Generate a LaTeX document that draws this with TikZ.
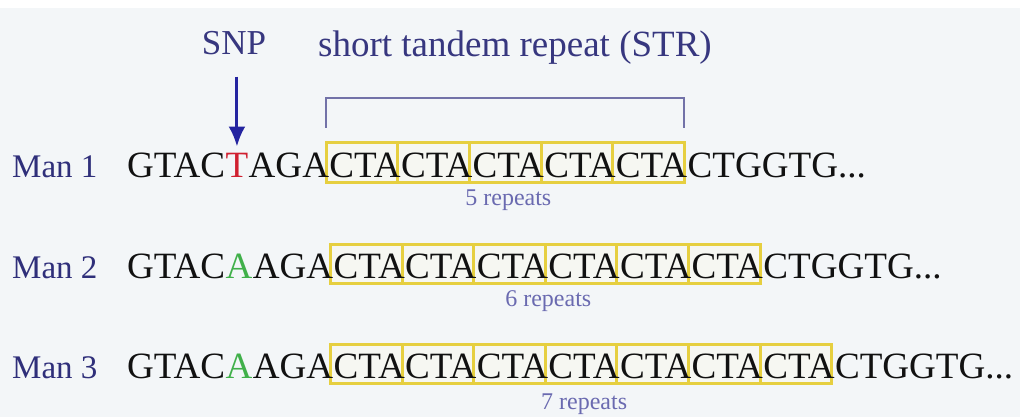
\documentclass[tikz,border=0pt]{standalone}
\usepackage{fontspec}
\setmainfont{Liberation Serif}
\usetikzlibrary{arrows.meta}
\usetikzlibrary{calc}

\definecolor{bgcol}{HTML}{F3F6F8}
\definecolor{seqblack}{HTML}{111111}
\definecolor{manblue}{HTML}{2F2F7A}
\definecolor{topblue}{HTML}{37377F}
\definecolor{arrowblue}{HTML}{2424A0}
\definecolor{bracketblue}{HTML}{7272A8}
\definecolor{stryellow}{HTML}{E6CF40}
\definecolor{boxfill}{HTML}{F6F7F2}
\definecolor{snpred}{HTML}{D02030}
\definecolor{snpgreen}{HTML}{40B04A}
\definecolor{repblue}{HTML}{6A6AB0}

\pgfdeclarelayer{back}
\pgfsetlayers{back,main}

\begin{document}
\begin{tikzpicture}[x=1pt,y=-1pt,
  seq/.style={anchor=base west,inner sep=0pt,text=seqblack,font=\fontsize{37.1}{40}\selectfont},
  manlabel/.style={anchor=base west,inner sep=0pt,text=manblue,font=\fontsize{33}{36}\selectfont},
  toplabel/.style={anchor=base west,inner sep=0pt,text=topblue,font=\fontsize{37}{40}\selectfont},
  replabel/.style={anchor=base,inner sep=0pt,text=repblue,font=\fontsize{24}{28}\selectfont},
  strbox/.style={draw=stryellow,line width=3pt,fill=boxfill},
  bracket/.style={draw=bracketblue,line width=2pt},
  snparrow/.style={draw=arrowblue,line width=3pt,-{Latex[length=20pt,width=17pt]}}]
 \useasboundingbox (0,0) rectangle (1020,417);
 \begin{pgfonlayer}{back}
  \fill[bgcol] (0,0) rectangle (1020,417);
  \fill[white] (0,0) rectangle (1020,8);
 \end{pgfonlayer}

 % headings
 \node[toplabel,anchor=base,font=\fontsize{35}{40}\selectfont] (snplab) at (234,55) {SNP};
 \node[toplabel] (strlab) at (318,57) {short tandem repeat (STR)};

 % one row per man
 \foreach \row/\ypos/\snpbase/\snpcol/\nrep/\cdrop in {1/177/T/snpred/5/28, 2/278/A/snpgreen/6/28, 3/378/A/snpgreen/7/31}{
  \node[manlabel] (man\row) at (12,\ypos) {Man \row};
  \node[seq] (pre\row) at (127,\ypos) {GTAC};
  \node[seq,text=\snpcol] (snp\row) at (pre\row.base east) {\snpbase};
  \node[seq,alias=rep\row-0] (mid\row) at (snp\row.base east) {AGA};
  \foreach \i [evaluate=\i as \j using int(\i-1)] in {1,...,\nrep}
   \node[seq] (rep\row-\i) at (rep\row-\j.base east) {CTA};
  \node[seq] (tail\row) at (rep\row-\nrep.base east) {CTGGTG...};
  \begin{pgfonlayer}{back}
   \foreach \i in {1,...,\nrep}
    \draw[strbox] ([xshift=-3pt,yshift=34pt]rep\row-\i.base west) rectangle ([xshift=-3pt,yshift=-5pt]rep\row-\i.base east);
  \end{pgfonlayer}
  \node[replabel] (count\row) at ([yshift=-\cdrop pt]$(rep\row-1.base west)!.5!(rep\row-\nrep.base east)$) {\nrep\ repeats};
 }

 % SNP arrow and STR bracket
 \draw[snparrow,shorten <=21pt,shorten >=6pt] (snplab.south -| snp1.north) -- (snp1.north);
 \draw[bracket] ([xshift=-3pt,yshift=49pt]rep1-1.base west) -- ++(0,-30) -| ([xshift=-3pt,yshift=49pt]rep1-5.base east);
\end{tikzpicture}
\end{document}
